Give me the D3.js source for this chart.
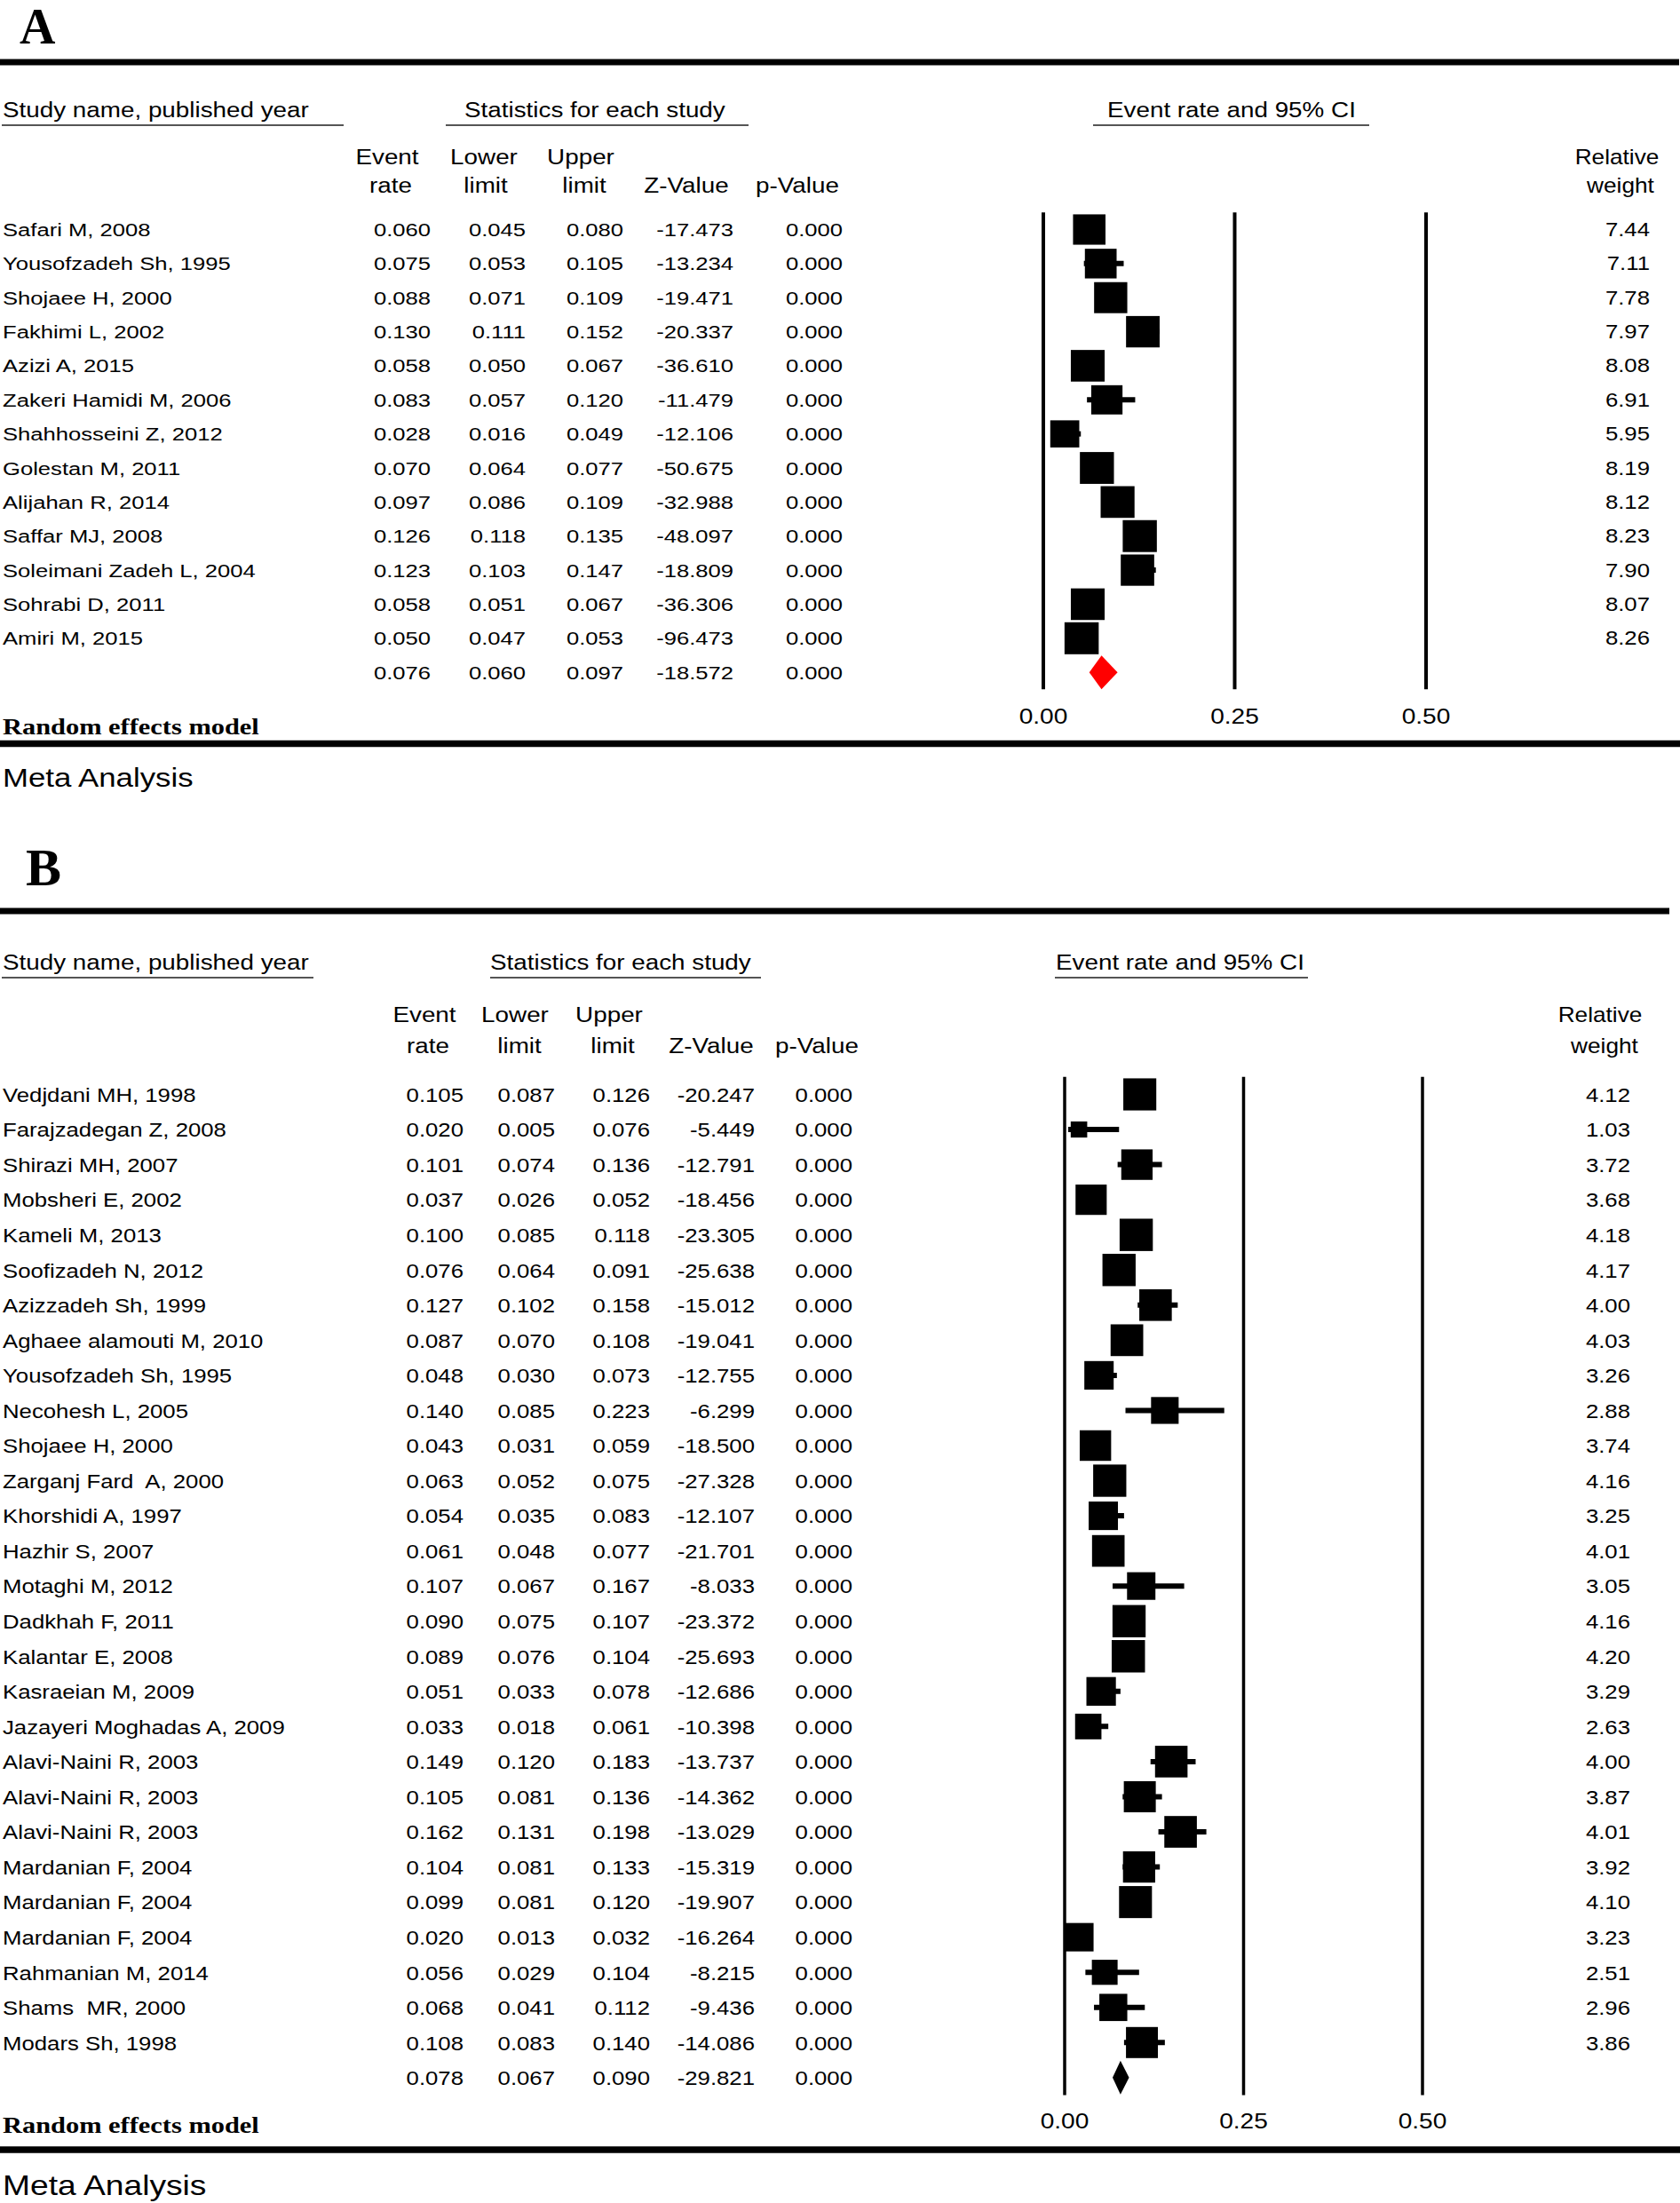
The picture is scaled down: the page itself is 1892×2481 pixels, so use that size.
<!DOCTYPE html>
<html><head><meta charset="utf-8">
<script src="https://cdn.jsdelivr.net/npm/d3@7"></script>
<style>html,body{margin:0;padding:0;background:#fff;} svg{display:block;}</style>
</head><body>
<script>
// ---------- Panel A data ----------
const studiesA = ["Safari M, 2008","Yousofzadeh Sh, 1995","Shojaee H, 2000","Fakhimi L, 2002","Azizi A, 2015","Zakeri Hamidi M, 2006","Shahhosseini Z, 2012","Golestan M, 2011","Alijahan R, 2014","Saffar MJ, 2008","Soleimani Zadeh L, 2004","Sohrabi D, 2011","Amiri M, 2015"];
const rateA  = [0.060,0.075,0.088,0.130,0.058,0.083,0.028,0.070,0.097,0.126,0.123,0.058,0.050];
const lowerA = [0.045,0.053,0.071,0.111,0.050,0.057,0.016,0.064,0.086,0.118,0.103,0.051,0.047];
const upperA = [0.080,0.105,0.109,0.152,0.067,0.120,0.049,0.077,0.109,0.135,0.147,0.067,0.053];
const zA     = [-17.473,-13.234,-19.471,-20.337,-36.610,-11.479,-12.106,-50.675,-32.988,-48.097,-18.809,-36.306,-96.473];
const pA     = [0,0,0,0,0,0,0,0,0,0,0,0,0];
const weightA= [7.44,7.11,7.78,7.97,8.08,6.91,5.95,8.19,8.12,8.23,7.90,8.07,8.26];
const summaryA = [0.076,0.060,0.097,-18.572,0.000]; // rate, lower, upper, z, p

// ---------- Panel B data ----------
const studiesB = ["Vedjdani MH, 1998","Farajzadegan Z, 2008","Shirazi MH, 2007","Mobsheri E, 2002","Kameli M, 2013","Soofizadeh N, 2012","Azizzadeh Sh, 1999","Aghaee alamouti M, 2010","Yousofzadeh Sh, 1995","Necohesh L, 2005","Shojaee H, 2000","Zarganj Fard  A, 2000","Khorshidi A, 1997","Hazhir S, 2007","Motaghi M, 2012","Dadkhah F, 2011","Kalantar E, 2008","Kasraeian M, 2009","Jazayeri Moghadas A, 2009","Alavi-Naini R, 2003","Alavi-Naini R, 2003","Alavi-Naini R, 2003","Mardanian F, 2004","Mardanian F, 2004","Mardanian F, 2004","Rahmanian M, 2014","Shams  MR, 2000","Modars Sh, 1998"];
const rateB  = [0.105,0.020,0.101,0.037,0.100,0.076,0.127,0.087,0.048,0.140,0.043,0.063,0.054,0.061,0.107,0.090,0.089,0.051,0.033,0.149,0.105,0.162,0.104,0.099,0.020,0.056,0.068,0.108];
const lowerB = [0.087,0.005,0.074,0.026,0.085,0.064,0.102,0.070,0.030,0.085,0.031,0.052,0.035,0.048,0.067,0.075,0.076,0.033,0.018,0.120,0.081,0.131,0.081,0.081,0.013,0.029,0.041,0.083];
const upperB = [0.126,0.076,0.136,0.052,0.118,0.091,0.158,0.108,0.073,0.223,0.059,0.075,0.083,0.077,0.167,0.107,0.104,0.078,0.061,0.183,0.136,0.198,0.133,0.120,0.032,0.104,0.112,0.140];
const zB     = [-20.247,-5.449,-12.791,-18.456,-23.305,-25.638,-15.012,-19.041,-12.755,-6.299,-18.500,-27.328,-12.107,-21.701,-8.033,-23.372,-25.693,-12.686,-10.398,-13.737,-14.362,-13.029,-15.319,-19.907,-16.264,-8.215,-9.436,-14.086];
const pB     = new Array(28).fill(0);
const weightB= [4.12,1.03,3.72,3.68,4.18,4.17,4.00,4.03,3.26,2.88,3.74,4.16,3.25,4.01,3.05,4.16,4.20,3.29,2.63,4.00,3.87,4.01,3.92,4.10,3.23,2.51,2.96,3.86];
const summaryB = [0.078,0.067,0.090,-29.821,0.000];

const ticks = [0, 0.25, 0.50];
const colHeads1 = ["Event","Lower","Upper","",""];
const colHeads2 = ["rate","limit","limit","Z-Value","p-Value"];

// ---------- drawing ----------
const W = 1892, H = 2481;
const svg = d3.select("body").append("svg").attr("width", W).attr("height", H);
const SANS = "'Liberation Sans', Arial, sans-serif";
const SERIF = "'Liberation Serif', 'Times New Roman', serif";
const f3 = v => v.toFixed(3), f2 = v => v.toFixed(2);

function txt(g, x, y, s, o) {
  o = o || {};
  return g.append("text")
    .attr("transform", `translate(${x},${y}) scale(${o.sx || 1},1)`)
    .attr("text-anchor", o.anchor || "start")
    .style("font-family", o.family || SANS)
    .style("font-size", (o.size || 21) + "px")
    .style("font-weight", o.weight || "normal")
    .style("white-space", "pre")
    .attr("fill", o.fill || "#000")
    .text(s);
}
function hline(g, x1, x2, y, w, c) {
  g.append("line").attr("x1", x1).attr("x2", x2).attr("y1", y).attr("y2", y)
    .attr("stroke", c || "#000").attr("stroke-width", w);
}

function panel(cfg) {
  const g = svg.append("g");
  const n = cfg.names.length;
  const x = d3.scaleLinear().domain([0, 0.5]).range(cfg.xRange);
  const y = d3.scaleLinear().domain([0, n - 1]).range(cfg.yRange);
  const rowH = (cfg.yRange[1] - cfg.yRange[0]) / (n - 1);
  const wmax = d3.max(cfg.weight);

  // panel letter
  txt(g, cfg.letterX, cfg.letterY, cfg.letter, {family: SERIF, size: cfg.letterSize, weight: "bold"});
  // thick rules
  hline(g, 0, cfg.topRuleX2, cfg.topRuleY, 7);
  hline(g, 0, W, cfg.botRuleY, 7.5);

  // group headers with underlines
  const hs = cfg.hdr;
  txt(g, 3, hs.y, "Study name, published year", {size: 23, sx: 1.21});
  hline(g, 2, hs.u1, hs.y + 9, 2, "#555");
  txt(g, hs.s1, hs.y, "Statistics for each study", {size: 23, sx: 1.21});
  hline(g, hs.s0, hs.s2, hs.y + 9, 2, "#555");
  txt(g, hs.e1, hs.y, "Event rate and 95% CI", {size: 23, sx: 1.21});
  hline(g, hs.e0, hs.e2, hs.y + 9, 2, "#555");

  // column headers
  cfg.hcx.forEach((cx, i) => {
    if (colHeads1[i]) txt(g, cx[0], cfg.h1y, colHeads1[i], {size: 23, sx: 1.21, anchor: "middle"});
    txt(g, cx[1], cfg.h2y, colHeads2[i], {size: 23, sx: 1.21, anchor: "middle"});
  });
  txt(g, cfg.relX[0], cfg.h1y, "Relative", {size: 23, sx: 1.14, anchor: "middle"});
  txt(g, cfg.relX[1], cfg.h2y, "weight", {size: 23, sx: 1.14, anchor: "middle"});

  // rows
  const cols = [cfg.rate, cfg.lower, cfg.upper, cfg.z, cfg.p];
  for (let i = 0; i < n; i++) {
    const by = y(i) + cfg.bodyOff;
    txt(g, 3, by, cfg.names[i], {size: cfg.bodySize, sx: cfg.bodySx});
    cols.forEach((arr, j) => txt(g, cfg.colR[j], by, f3(arr[i]), {size: cfg.bodySize, sx: cfg.bodySx, anchor: "end"}));
    txt(g, cfg.wR, by, f2(cfg.weight[i]), {size: 23, sx: 1.12, anchor: "end"});
  }
  // summary row numbers
  const sy = y(n);
  cfg.summary.forEach((v, j) => txt(g, cfg.colR[j], sy + cfg.bodyOff, f3(v), {size: cfg.bodySize, sx: cfg.bodySx, anchor: "end"}));

  // vertical reference lines
  const yTop = y(0) - rowH / 2, yBot = y(n) + rowH / 2;
  g.selectAll(".vl").data(ticks).enter().append("line")
    .attr("x1", d => x(d)).attr("x2", d => x(d)).attr("y1", yTop).attr("y2", yBot)
    .attr("stroke", "#000").attr("stroke-width", cfg.vlw);
  // tick labels
  ticks.forEach(t => txt(g, x(t), cfg.tickY, t.toFixed(2), {size: 24, sx: 1.17, anchor: "middle"}));

  // CI lines
  for (let i = 0; i < n; i++) {
    g.append("line").attr("x1", x(cfg.lower[i])).attr("x2", x(cfg.upper[i]))
      .attr("y1", y(i)).attr("y2", y(i)).attr("stroke", "#000").attr("stroke-width", 6);
  }
  // boxes
  for (let i = 0; i < n; i++) {
    const k = Math.sqrt(cfg.weight[i] / wmax);
    const bw = cfg.boxW * k, bh = cfg.boxH * k;
    g.append("rect").attr("x", x(cfg.rate[i]) - bw / 2).attr("y", y(i) - bh / 2)
      .attr("width", bw).attr("height", bh).attr("fill", "#000");
  }
  // summary diamond
  const s = cfg.summary;
  g.append("path")
    .attr("d", `M${x(s[1])},${sy} L${x(s[0])},${sy - 19} L${x(s[2])},${sy} L${x(s[0])},${sy + 19} Z`)
    .attr("fill", cfg.diamond);

  // footer texts
  txt(g, 3, cfg.remY, "Random effects model", {family: SERIF, size: 26, weight: "bold", sx: 1.17});
  txt(g, 3, cfg.metaY, "Meta Analysis", {size: cfg.metaSize, sx: 1.2});
}

panel({
  letter: "A", letterX: 22, letterY: 49, letterSize: 56,
  topRuleY: 70, topRuleX2: 1891, botRuleY: 837.5,
  hdr: {y: 132, u1: 387, s0: 502, s1: 523, s2: 843, e0: 1231, e1: 1247, e2: 1542},
  h1y: 185, h2y: 217,
  hcx: [[436, 440], [545, 547], [654, 658], [773, 773], [898, 898]],
  relX: [1821, 1825],
  names: studiesA, rate: rateA, lower: lowerA, upper: upperA, z: zA, p: pA, weight: weightA, summary: summaryA,
  xRange: [1175, 1606], yRange: [258.5, 718.8],
  colR: [485, 592, 702, 826, 949], wR: 1858,
  bodySize: 21, bodySx: 1.22, bodyOff: 7.5,
  vlw: 4, tickY: 815, boxW: 38.5, boxH: 36, diamond: "#ff0000",
  remY: 827, metaY: 886, metaSize: 29
});

panel({
  letter: "B", letterX: 29, letterY: 997, letterSize: 60,
  topRuleY: 1026, topRuleX2: 1880, botRuleY: 2421,
  hdr: {y: 1092, u1: 353, s0: 552, s1: 552, s2: 857, e0: 1188, e1: 1189, e2: 1473},
  h1y: 1151, h2y: 1186,
  hcx: [[478, 482], [580, 585], [686, 690], [801, 801], [920, 920]],
  relX: [1802, 1807],
  names: studiesB, rate: rateB, lower: lowerB, upper: upperB, z: zB, p: pB, weight: weightB, summary: summaryB,
  xRange: [1199, 1602], yRange: [1232.5, 2300.3],
  colR: [522, 625, 732, 850, 960], wR: 1836,
  bodySize: 23, bodySx: 1.12, bodyOff: 8.3,
  vlw: 3.5, tickY: 2397, boxW: 37.5, boxH: 36.5, diamond: "#000",
  remY: 2402, metaY: 2472, metaSize: 31
});
</script>
</body></html>
